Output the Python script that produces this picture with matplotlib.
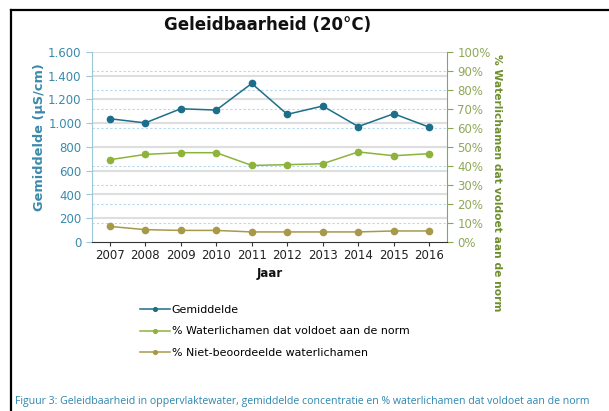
import numpy as np
import matplotlib.pyplot as plt
from matplotlib.lines import Line2D
from matplotlib.ticker import FuncFormatter

jaren = ['2007', '2008', '2009', '2010', '2011', '2012', '2013', '2014', '2015', '2016']
gemiddelde = [1038, 1003, 1122, 1111, 1335, 1075, 1145, 972, 1080, 967]
pct_voldoet = [43.3, 46.1, 47.0, 47.0, 40.3, 40.7, 41.2, 47.4, 45.4, 46.5]
pct_niet_beoordeeld = [8.2, 6.5, 6.1, 6.1, 5.3, 5.3, 5.3, 5.3, 5.8, 5.8]

c_gem = '#1d6e8a'
c_vol = '#8db33a'
c_niet = '#a8994a'
c_blauw = '#3a8aab'
c_olijf = '#6e8f2e'

fig = plt.figure(figsize=(6.09, 4.11), dpi=100)
ax = fig.add_axes([92/609, 1-242/411, 355/609, 190/411])
ax2 = ax.twinx()

x = np.arange(len(jaren))

# gridlijnen
for v in range(200, 1601, 200):
    ax.axhline(v, color='#dedede', lw=1.5, zorder=0)
for p in range(10, 100, 10):
    ax2.axhline(p, color='#b5d8f2', lw=0.8, ls=(0, (2, 2)), zorder=0)

ax.plot(x, gemiddelde, color=c_gem, marker='o', ms=4.5, lw=1.1, label='Gemiddelde', zorder=5)
ax2.plot(x, pct_voldoet, color=c_vol, marker='o', ms=4.5, lw=1.1,
         label='% Waterlichamen dat voldoet aan de norm')
ax2.plot(x, pct_niet_beoordeeld, color=c_niet, marker='o', ms=4.5, lw=1.1,
         label='% Niet-beoordeelde waterlichamen')
ax.set_zorder(ax2.get_zorder() + 1)
ax.patch.set_visible(False)

ax.set_xlim(-0.5, 9.5)
ax.set_ylim(0, 1600)
ax2.set_ylim(0, 100)
ax.set_yticks(range(0, 1601, 200))
ax2.set_yticks(range(0, 101, 10))
ax.yaxis.set_major_formatter(FuncFormatter(lambda v, p: '{:,.0f}'.format(v).replace(',', '.')))
ax2.yaxis.set_major_formatter(FuncFormatter(lambda v, p: '%d%%' % v))
ax.set_xticks(x)
ax.set_xticklabels(jaren)

for s in ['top', 'right']:
    ax.spines[s].set_visible(False)
for s in ['top', 'left', 'bottom']:
    ax2.spines[s].set_visible(False)
ax.spines['left'].set_color('#9cc8d8')
ax.spines['bottom'].set_color('#333333')
ax2.spines['right'].set_color('#8aa64e')

ax.tick_params(axis='y', colors='#9cc8d8', labelcolor=c_blauw, labelsize=8.5, length=4)
ax.tick_params(axis='x', colors='#333333', labelcolor='#222222', labelsize=8.5, length=3, pad=2)
ax2.tick_params(axis='y', colors='#8aa64e', labelcolor='#8fa85a', labelsize=8.5, length=4)

fig.text(268/609, 1-25/411, 'Geleidbaarheid (20°C)', ha='center', va='center',
         fontsize=12, fontweight='bold', color='#111111')
fig.text(270/609, 1-273/411, 'Jaar', ha='center', va='center', fontsize=8.5,
         fontweight='bold', color='#111111')
fig.text(40/609, 1-137/411, 'Gemiddelde (µS/cm)', rotation=90, ha='center', va='center',
         fontsize=9.3, fontweight='bold', color=c_blauw)
fig.text(497/609, 1-183/411, '% Waterlichamen dat voldoet aan de norm', rotation=270,
         ha='center', va='center', fontsize=7.7, fontweight='bold', color=c_olijf)

h1, l1 = ax.get_legend_handles_labels()
h2, l2 = ax2.get_legend_handles_labels()
fig.legend(h1 + h2, l1 + l2, loc='upper left', bbox_to_anchor=(130/609, 1-295/411),
           frameon=False, fontsize=7.9, handlelength=2.7, labelspacing=1.05,
           handletextpad=0.2, markerscale=0.6)

fig.text(15/609, 1-401/411,
         'Figuur 3: Geleidbaarheid in oppervlaktewater, gemiddelde concentratie en % waterlichamen dat voldoet aan de norm',
         ha='left', va='center', fontsize=7.6, color='#2e86b0', family='Open Sans')

# kader
fig.add_artist(Line2D([11/609, 1], [1-10/411, 1-10/411], color='black', lw=1.6))
fig.add_artist(Line2D([11/609, 11/609], [0, 1-10/411], color='black', lw=1.6))

plt.savefig('out.png', dpi=100)
